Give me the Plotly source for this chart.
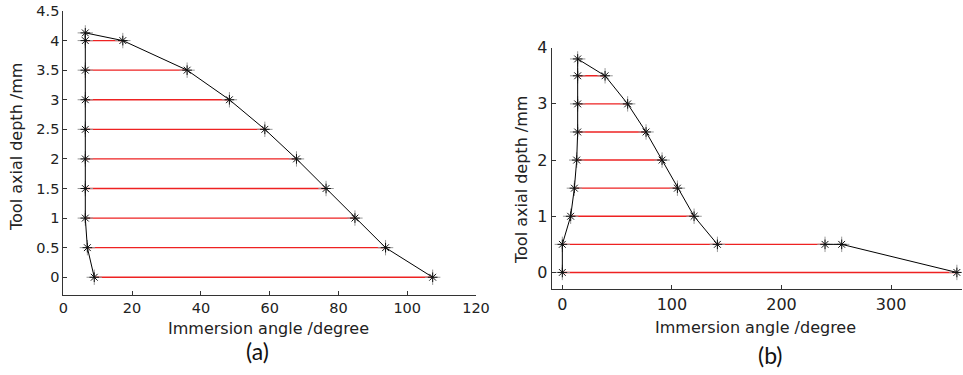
import plotly.graph_objects as go

W, H = 963, 375

# ---- (a) data ----
a_levels = [0, 0.5, 1, 1.5, 2, 2.5, 3, 3.5, 4]
a_left = [9.0, 7.0, 6.4, 6.4, 6.4, 6.4, 6.4, 6.4, 6.4]
a_right = [107.4, 93.7, 84.8, 76.4, 67.8, 58.6, 48.3, 36.0, 17.3]
a_top = (6.4, 4.13)

# ---- (b) data ----
b_levels = [0, 0.5, 1, 1.5, 2, 2.5, 3, 3.5]
b_left = [0, 0, 7.6, 11.0, 13.1, 14.0, 14.0, 14.0]
b_right_curve = [None, 141.5, 120.2, 105.0, 91.0, 76.4, 59.6, 39.0]
b_red_end = [360, 239.7, 120.2, 105.0, 91.0, 76.4, 59.6, 39.0]
b_top = (14.0, 3.8)
b_tail_x = [239.7, 254.9, 360]
b_tail_y = [0.5, 0.5, 0]

fig = go.Figure()

MK = dict(symbol="asterisk-open", size=8, color="#111", line=dict(color="#222", width=1))
MK2 = dict(symbol="cross-thin-open", size=11, color="#999", line=dict(color="#888", width=1))


def red_segments(levels, x0s, x1s):
    xs, ys = [], []
    for y, a, b in zip(levels, x0s, x1s):
        xs += [a, b, None]
        ys += [y, y, None]
    return xs, ys


# (a) red lines
rx, ry = red_segments(a_levels, a_left, a_right)
fig.add_trace(go.Scatter(x=rx, y=ry, mode="lines", line=dict(color="#ee2222", width=1.4),
                         xaxis="x", yaxis="y", showlegend=False))
# (a) boundary
bx = a_left + [a_top[0]] + a_right[::-1]
by = a_levels + [a_top[1]] + a_levels[::-1]
fig.add_trace(go.Scatter(x=bx, y=by, mode="markers", marker=MK2, xaxis="x", yaxis="y", showlegend=False))
fig.add_trace(go.Scatter(x=bx, y=by, mode="lines+markers", line=dict(color="black", width=1),
                         marker=MK, xaxis="x", yaxis="y", showlegend=False))

# (b) red lines
rx, ry = red_segments(b_levels, b_left, b_red_end)
fig.add_trace(go.Scatter(x=rx, y=ry, mode="lines", line=dict(color="#ee2222", width=1.4),
                         xaxis="x2", yaxis="y2", showlegend=False))
# (b) boundary
cx = b_left + [b_top[0]] + [v for v in b_right_curve[::-1] if v is not None]
cy = b_levels + [b_top[1]] + [l for l, v in zip(b_levels[::-1], b_right_curve[::-1]) if v is not None]
fig.add_trace(go.Scatter(x=cx, y=cy, mode="markers", marker=MK2, xaxis="x2", yaxis="y2", showlegend=False))
fig.add_trace(go.Scatter(x=cx, y=cy, mode="lines+markers", line=dict(color="black", width=1),
                         marker=MK, xaxis="x2", yaxis="y2", showlegend=False))
fig.add_trace(go.Scatter(x=b_tail_x, y=b_tail_y, mode="markers", marker=MK2, xaxis="x2", yaxis="y2", showlegend=False))
fig.add_trace(go.Scatter(x=b_tail_x, y=b_tail_y, mode="lines+markers", line=dict(color="black", width=1),
                         marker=MK, xaxis="x2", yaxis="y2", showlegend=False))

FAM = "DejaVu Sans, sans-serif"
TFa = dict(family=FAM, size=14.5, color="#222")
TFb = dict(family=FAM, size=16, color="#222")
axcommon = dict(showgrid=False, zeroline=False, showline=True, linecolor="#333", linewidth=1,
                ticks="inside", ticklen=4, tickcolor="#333", mirror=False, automargin=False)

fig.update_layout(
    width=W, height=H,
    margin=dict(l=0, r=0, t=0, b=0, autoexpand=False),
    paper_bgcolor="white", plot_bgcolor="white",
    hovermode=False,
    xaxis=dict(domain=[63.3 / W, 476 / W], range=[0, 120], tickvals=[0, 20, 40, 60, 80, 100, 120],
               anchor="y", tickfont=TFa, **axcommon),
    yaxis=dict(domain=[1 - 295 / H, 1 - 11 / H], range=[-0.3, 4.5],
               tickvals=[0, 0.5, 1, 1.5, 2, 2.5, 3, 3.5, 4, 4.5],
               ticktext=["0", "0.5", "1", "1.5", "2", "2.5", "3", "3.5", "4", "4.5"],
               anchor="x", tickfont=TFa, **axcommon),
    xaxis2=dict(domain=[551.7 / W, 961.7 / W], range=[-9.7, 364.4], tickvals=[0, 100, 200, 300],
                anchor="y2", tickfont=TFb, **axcommon),
    yaxis2=dict(domain=[1 - 289.3 / H, 1 - 47.7 / H], range=[-0.3, 4], tickvals=[0, 1, 2, 3, 4],
                anchor="x2", tickfont=TFb, **axcommon),
)

ann = []
lab = dict(family=FAM, size=16, color="#222")
ann.append(dict(x=268 / W, y=1 - 328 / H, xref="paper", yref="paper", text="Immersion angle /degree",
                showarrow=False, font=lab, xanchor="center", yanchor="middle"))
ann.append(dict(x=755 / W, y=1 - 327 / H, xref="paper", yref="paper", text="Immersion angle /degree",
                showarrow=False, font=lab, xanchor="center", yanchor="middle"))
ann.append(dict(x=16 / W, y=1 - 147 / H, xref="paper", yref="paper", text="Tool axial depth /mm",
                showarrow=False, font=lab, textangle=-90, xanchor="center", yanchor="middle"))
ann.append(dict(x=521 / W, y=1 - 180 / H, xref="paper", yref="paper", text="Tool axial depth /mm",
                showarrow=False, font=lab, textangle=-90, xanchor="center", yanchor="middle"))
pf = dict(family="Lato, Open Sans, sans-serif", size=23, color="#111")
ann.append(dict(x=257 / W, y=1 - 351 / H, xref="paper", yref="paper", text="(a)",
                showarrow=False, font=pf, xanchor="center", yanchor="middle"))
ann.append(dict(x=770 / W, y=1 - 355 / H, xref="paper", yref="paper", text="(b)",
                showarrow=False, font=pf, xanchor="center", yanchor="middle"))
fig.update_layout(annotations=ann)

fig.write_html("out.html", config={"displayModeBar": False, "staticPlot": True},
               post_script="document.body.style.margin='0';document.body.style.overflow='hidden';")
